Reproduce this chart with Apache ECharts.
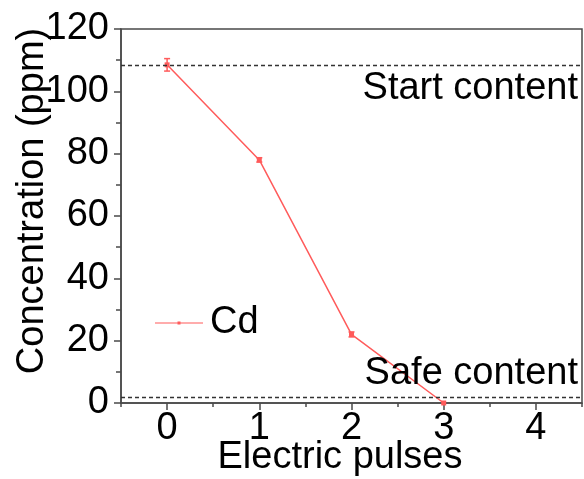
<!DOCTYPE html>
<html>
<head>
<meta charset="utf-8">
<style>
  html, body { margin: 0; padding: 0; background: #fff; }
  #chart { width: 584px; height: 479px; }
</style>
<script src="https://cdn.jsdelivr.net/npm/echarts@6/dist/echarts.min.js"></script>
</head>
<body>
<div id="chart"></div>
<script>
// Cd concentration after successive electric pulses
var pulses = [0, 1, 2, 3];
var cdConcentration = [108.5, 78, 22, 0];
var cdError = [2, 0.7, 0.8, 0];
var startContent = 108.5;
var safeContent = 2;
var xTicks = [0, 1, 2, 3, 4];

var FONT = "'Liberation Sans', Arial, sans-serif";
var RED = '#ff5b5b';
var AXIS = '#4a4a4a';

var chart = echarts.init(document.getElementById('chart'), null, { renderer: 'canvas' });

var lineData = pulses.map(function (p, i) { return [p, cdConcentration[i]]; });
var errData = pulses.map(function (p, i) {
  return [p, cdConcentration[i] - cdError[i], cdConcentration[i] + cdError[i]];
});

chart.setOption({
  animation: false,
  backgroundColor: '#fff',
  textStyle: { fontFamily: FONT },
  grid: {
    left: 121, right: 2, top: 29, bottom: 76,
    show: true, borderColor: AXIS, borderWidth: 1.5, backgroundColor: 'transparent'
  },
  legend: {
    left: 150, top: 299,
    itemWidth: 48, itemHeight: 4, itemGap: 10,
    data: [{ name: 'Cd', icon: 'path://M0,1.6H48V2.4H0ZM22.5,0.5H25.5V3.5H22.5Z', itemStyle: { color: RED } }],
    textStyle: { fontSize: 38, color: '#000', fontFamily: FONT, padding: [0, 0, 0, 2] }
  },
  xAxis: [{
    type: 'value', min: -0.5, max: 4.5,
    axisLine: { show: true, onZero: false, lineStyle: { color: AXIS, width: 1.5 } },
    axisTick: { show: true, length: 7, customValues: xTicks, lineStyle: { color: AXIS, width: 1.5 } },
    axisLabel: { customValues: xTicks, fontSize: 38, color: '#000', margin: 7, fontFamily: FONT },
    splitLine: { show: false }
  }, {
    type: 'value', min: -0.5, max: 4.5, interval: 0.5, position: 'bottom', offset: 0,
    axisLine: { show: false, onZero: false },
    axisTick: { show: true, length: 4, lineStyle: { color: AXIS, width: 1.5 } },
    axisLabel: { show: false },
    splitLine: { show: false }
  }],
  yAxis: {
    type: 'value', min: 0, max: 120, interval: 20,
    axisLine: { show: true, onZero: false, lineStyle: { color: AXIS, width: 1.5 } },
    axisTick: { show: true, length: 7, lineStyle: { color: AXIS, width: 1.5 } },
    minorTick: { show: true, splitNumber: 2, length: 5, lineStyle: { color: AXIS, width: 1.5 } },
    axisLabel: { fontSize: 38, color: '#000', margin: 12, fontFamily: FONT },
    splitLine: { show: false }
  },
  graphic: [{
    type: 'text', x: 33, y: 201, rotation: Math.PI / 2,
    style: { text: 'Concentration (ppm)', font: '38px ' + FONT, fill: '#000', align: 'center', verticalAlign: 'middle' }
  }, {
    type: 'text', x: 340, y: 458,
    style: { text: 'Electric pulses', font: '38px ' + FONT, fill: '#000', align: 'center', verticalAlign: 'middle' }
  }],
  series: [{
    name: 'Cd', type: 'line', data: lineData,
    symbol: 'rect', symbolSize: 5, showSymbol: true,
    itemStyle: { color: RED },
    lineStyle: { color: RED, width: 1.5 },
    markLine: {
      silent: true, symbol: 'none',
      lineStyle: { color: '#333', type: [4, 3], width: 1.3 },
      data: [
        { yAxis: startContent, label: { formatter: 'Start content', position: 'insideEndBottom', distance: [4, 5] } },
        { yAxis: safeContent, label: { formatter: 'Safe content', position: 'insideEndTop', distance: [4, 4] } }
      ],
      label: { fontSize: 38, color: '#000', fontFamily: FONT }
    },
    z: 3
  }, {
    name: 'err', type: 'custom', data: errData,
    renderItem: function (params, api) {
      var x = api.value(0);
      var lo = api.coord([x, api.value(1)]);
      var hi = api.coord([x, api.value(2)]);
      if (Math.abs(lo[1] - hi[1]) < 1) return null;
      var w = 3;
      var s = { stroke: RED, lineWidth: 1.5 };
      return {
        type: 'group',
        children: [
          { type: 'line', shape: { x1: lo[0], y1: lo[1], x2: hi[0], y2: hi[1] }, style: s },
          { type: 'line', shape: { x1: lo[0] - w, y1: lo[1], x2: lo[0] + w, y2: lo[1] }, style: s },
          { type: 'line', shape: { x1: hi[0] - w, y1: hi[1], x2: hi[0] + w, y2: hi[1] }, style: s }
        ]
      };
    },
    encode: { x: 0, y: [1, 2] },
    z: 4
  }]
});
</script>
</body>
</html>
